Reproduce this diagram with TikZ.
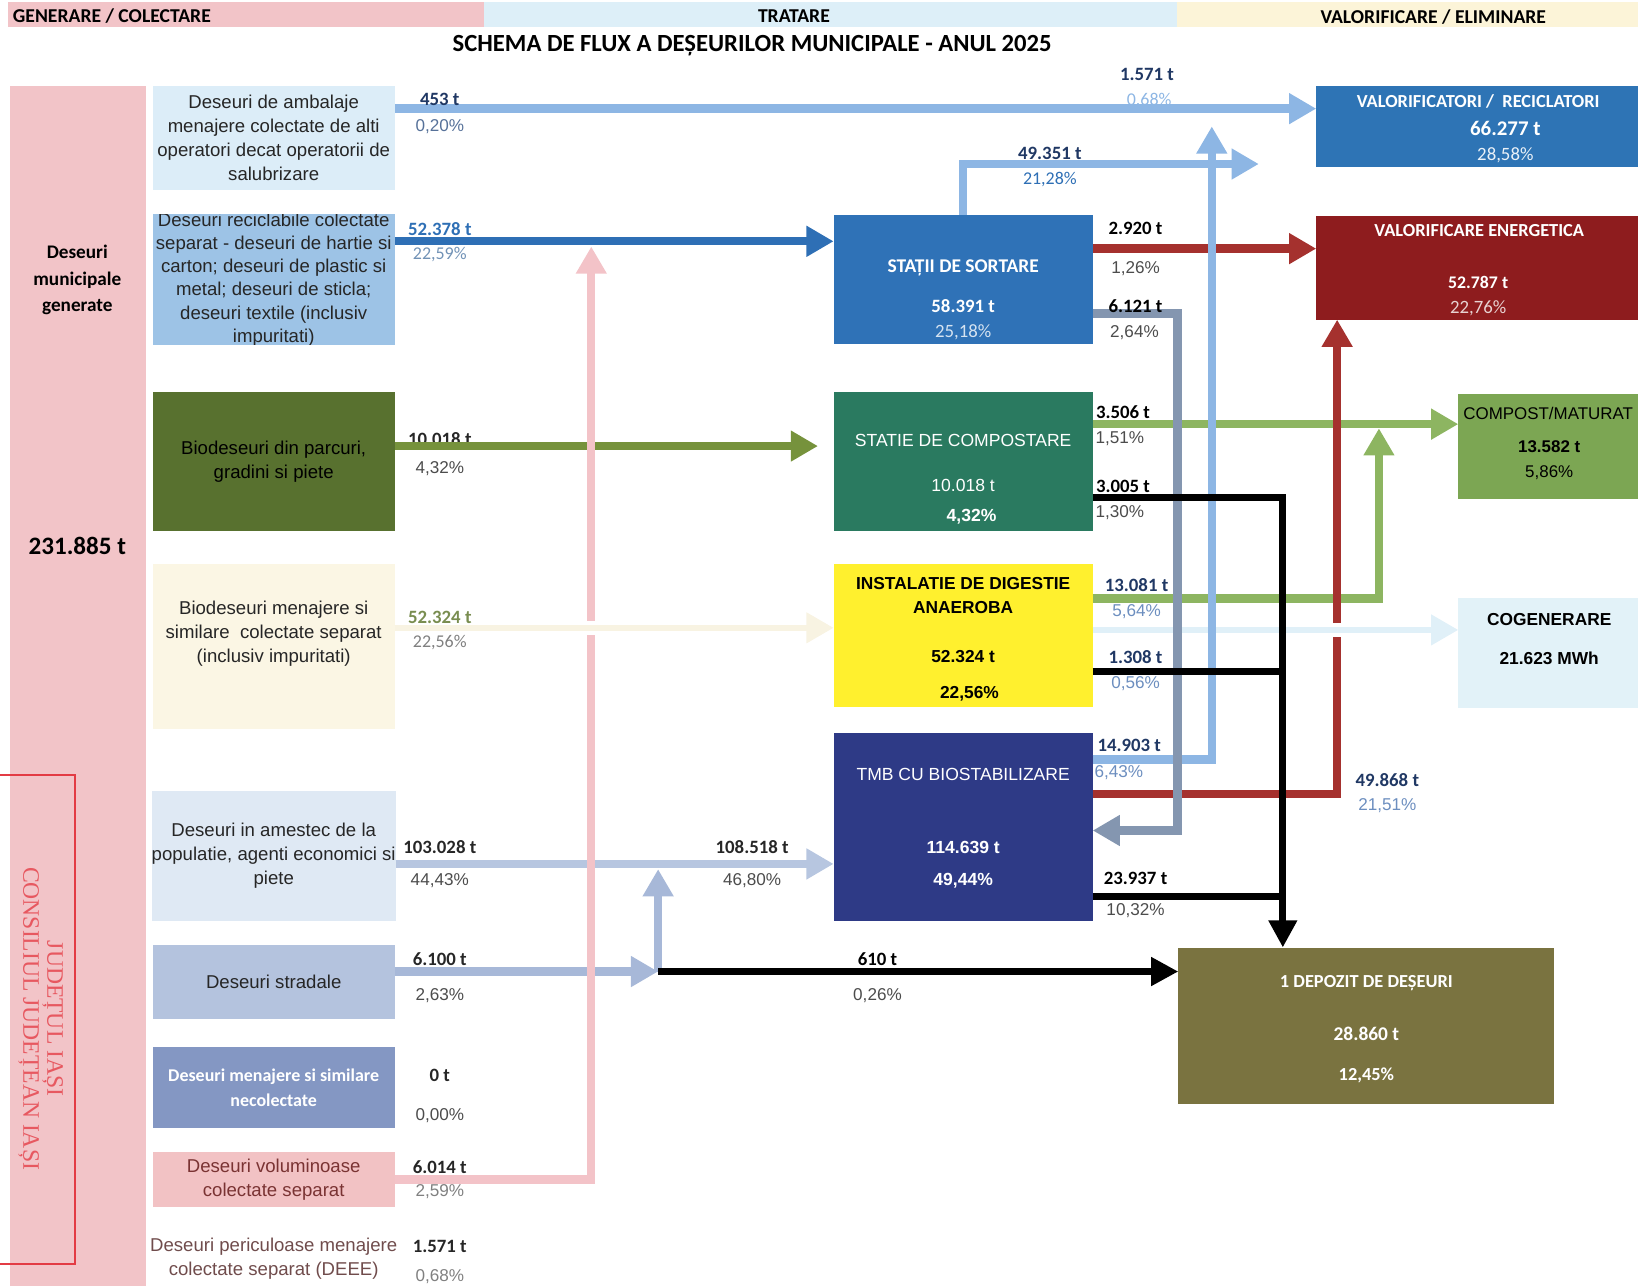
\documentclass[tikz,border=0pt]{standalone}
\usepackage{fontspec}
\setmainfont{Carlito}
\newfontfamily\arl{Liberation Sans}
\newfontfamily\tnr{Liberation Serif}
\usetikzlibrary{arrows.meta,positioning,calc}
\definecolor{pinkbg}{HTML}{F2C4C8}
\definecolor{hdrblue}{HTML}{DDEFF8}
\definecolor{hdryel}{HTML}{FCF4D8}
\definecolor{ambal}{HTML}{DCEDF8}
\definecolor{recic}{HTML}{9DC3E6}
\definecolor{bpark}{HTML}{58712F}
\definecolor{bmenaj}{HTML}{FBF6E4}
\definecolor{amest}{HTML}{DFE9F4}
\definecolor{strad}{HTML}{B4C3DE}
\definecolor{necol}{HTML}{8497C3}
\definecolor{volum}{HTML}{F2C2C4}
\definecolor{sortc}{HTML}{2F72B7}
\definecolor{compc}{HTML}{2A7A60}
\definecolor{digc}{HTML}{FFF02E}
\definecolor{tmbc}{HTML}{2E3A86}
\definecolor{valrc}{HTML}{2E74B5}
\definecolor{enerc}{HTML}{8E1C1E}
\definecolor{cmpstc}{HTML}{7CA653}
\definecolor{cogc}{HTML}{E2F2F8}
\definecolor{depc}{HTML}{7A7340}
\definecolor{fllblue}{HTML}{8DB6E4}
\definecolor{fldblue}{HTML}{2E6FB5}
\definecolor{flpink}{HTML}{F3C3C8}
\definecolor{flolive}{HTML}{76923C}
\definecolor{flcream}{HTML}{F8F3E2}
\definecolor{flgray}{HTML}{B7C6E0}
\definecolor{flstrad}{HTML}{A7B8D8}
\definecolor{flred}{HTML}{A5312E}
\definecolor{flslate}{HTML}{8496B0}
\definecolor{flgreen}{HTML}{8DB561}
\definecolor{flfaint}{HTML}{E0F0F8}
\definecolor{navy}{HTML}{203864}
\definecolor{slate}{HTML}{6C8EBF}
\definecolor{stampred}{HTML}{E33B44}

\begin{document}
\begin{tikzpicture}[x=0.5pt,y=-0.5pt,
  box/.style={rectangle,inner sep=0pt,outer sep=0pt,align=center},
  dsc/.style={font=\arl\fontsize{8.9}{11.5}\selectfont,align=center,text=black!85},
  num/.style={font=\fontsize{9}{10}\selectfont\bfseries,inner sep=0pt,text=black!85},
  pct/.style={font=\arl\fontsize{8.2}{10}\selectfont,inner sep=0pt,text=black!70},
  hd/.style={font=\fontsize{9.4}{10}\selectfont\bfseries,inner sep=0pt},
  wt/.style={font=\fontsize{9}{10}\selectfont\bfseries,text=white,inner sep=0pt,align=center},
  at8/.style={font=\arl\fontsize{8.4}{11.5}\selectfont,inner sep=0pt,align=center},
  flow/.style={line width=4pt,-{Triangle[length=13pt,width=14pt]}},
  blk/.style={line width=3.5pt,black,-{Triangle[length=13pt,width=13pt]}},
  faint/.style={line width=3pt,preaction={draw=white,line width=7pt}}
]
\useasboundingbox (0,0) rectangle (1568,1231);
% header bands
\node[box,fill=pinkbg,minimum width=227.5pt,minimum height=12pt] (hgen) at (235.5,14) {};
\node[box,fill=hdrblue,minimum width=332pt,minimum height=12pt] (htrat) at (795,14) {};
\node[box,fill=hdryel,minimum width=220.5pt,minimum height=12pt] (hval) at (1347.5,14) {};
\node[hd,anchor=west] (hgenT) at (12,15) {GENERARE / COLECTARE};
\node[hd] (htratT) at (760,15) {TRATARE};
\node[hd] (hvalT) at (1372,16) {VALORIFICARE / ELIMINARE};
\node[font=\fontsize{11.8}{13}\selectfont\bfseries] (title) at (720,44) {SCHEMA DE FLUX A DEȘEURILOR MUNICIPALE - ANUL 2025};

% generated column + stamp
\node[box,fill=pinkbg,minimum width=65pt,minimum height=574.5pt] (gen) at (75,656.5) {};
\node[font=\fontsize{9.2}{12.5}\selectfont\bfseries,align=center] (genT) at (74,268) {Deseuri\\municipale\\generate};
\node[font=\fontsize{12}{13}\selectfont\bfseries] (genV) at (74,523) {231.885 t};
\draw[stampred,line width=0.7pt] (0,742) -- (72,742) -- (72,1210) -- (0,1210);
\node[font=\tnr\fontsize{11.3}{11.5}\selectfont,text=stampred!85,rotate=-90,align=center] (stamp) at (39,975) {JUDEȚUL IAȘI\\CONSILIUL JUDEȚEAN IAȘI};

% sources
\node[box,dsc,fill=ambal,minimum width=116pt,minimum height=50pt] (amb) at (262,132) {Deseuri de ambalaje\\menajere colectate de alti\\operatori decat operatorii de\\salubrizare};
\node[box,fill=recic,minimum width=116pt,minimum height=62.5pt] (rec) at (262,267.5) {};
\begin{scope}
  \clip (rec.south west) rectangle (rec.north east);
  \node[dsc,font=\arl\fontsize{8.9}{11.1}\selectfont] (recT) at (262,267.5) {Deseuri reciclabile colectate\\separat - deseuri de hartie si\\carton; deseuri de plastic si\\metal; deseuri de sticla;\\deseuri textile (inclusiv\\impuritati)};
\end{scope}
\node[box,dsc,fill=bpark,minimum width=116pt,minimum height=66.5pt,text=black] (bpar) at (262,441.5) {Biodeseuri din parcuri,\\gradini si piete};
\node[box,fill=bmenaj,minimum width=116pt,minimum height=79pt] (bmen) at (262,619) {};
\node[dsc] (bmenT) at (262,607) {Biodeseuri menajere si\\similare\ \ colectate separat\\(inclusiv impuritati)};
\node[box,dsc,fill=amest,minimum width=116pt,minimum height=62.5pt] (ames) at (262,819.5) {Deseuri in amestec de la\\populatie, agenti economici si\\piete};
\node[box,dsc,fill=strad,minimum width=116pt,minimum height=35pt] (strd) at (262,940) {Deseuri stradale};
\node[box,wt,fill=necol,minimum width=116pt,minimum height=39pt,font=\fontsize{8.6}{12}\selectfont\bfseries] (necl) at (262,1041) {Deseuri menajere si similare\\necolectate};
\node[box,dsc,fill=volum,minimum width=116pt,minimum height=26pt,text=red!35!black!80] (vol) at (262,1129) {Deseuri voluminoase\\colectate separat};
\node[dsc,text=red!20!black!70] (peric) at (262,1205) {Deseuri periculoase menajere\\colectate separat (DEEE)};

% treatment
\node[box,fill=sortc,minimum width=124pt,minimum height=62pt] (sort) at (922,267.5) {};
\node[box,fill=compc,minimum width=124pt,minimum height=66.5pt] (comp) at (922,441.5) {};
\node[box,fill=digc,minimum width=124pt,minimum height=68.5pt] (dig) at (922,608.5) {};
\node[box,fill=tmbc,minimum width=124pt,minimum height=90pt] (tmb) at (922,792) {};
\node[wt,font=\fontsize{9.3}{10}\selectfont\bfseries] (sortT) at (922,256) {STAȚII DE SORTARE};
\node[wt] (sortV) at (922,293) {58.391 t};
\node[wt,font=\fontsize{9}{10}\selectfont,text=white!80!sortc] (sortP) at (922,318) {25,18\%};
\node[at8,text=white] (compT) at (922,422) {STATIE DE COMPOSTARE};
\node[at8,text=white] (compV) at (922,465) {10.018 t};
\node[at8,text=white,font=\arl\bfseries\fontsize{8.4}{10}\selectfont] (compP) at (930,495) {4,32\%};
\node[at8,font=\arl\bfseries\fontsize{8.3}{11.5}\selectfont] (digT) at (922,570.5) {INSTALATIE DE DIGESTIE\\ANAEROBA};
\node[at8,font=\arl\bfseries\fontsize{8.3}{10}\selectfont] (digV) at (922,628) {52.324 t};
\node[at8,font=\arl\bfseries\fontsize{8.3}{10}\selectfont] (digP) at (928,664) {22,56\%};
\node[at8,text=white] (tmbT) at (922,741) {TMB CU BIOSTABILIZARE};
\node[at8,text=white,font=\arl\bfseries\fontsize{8.4}{10}\selectfont] (tmbV) at (922,811) {114.639 t};
\node[at8,text=white,font=\arl\bfseries\fontsize{8.4}{10}\selectfont] (tmbP) at (922,843) {49,44\%};

% destinations
\node[box,fill=valrc,minimum width=154pt,minimum height=39pt] (valr) at (1414,121) {};
\node[box,fill=enerc,minimum width=154pt,minimum height=49.5pt] (ener) at (1414,256.5) {};
\node[box,fill=cmpstc,minimum width=86pt,minimum height=50.5pt] (cmpst) at (1482,427.5) {};
\node[box,fill=cogc,minimum width=86pt,minimum height=53pt] (cog) at (1482,625) {};
\node[box,fill=depc,minimum width=180pt,minimum height=75pt] (dep) at (1308,982) {};
\node[wt,font=\fontsize{8.8}{10}\selectfont\bfseries] (valrT) at (1415,97) {VALORIFICATORI /\ \ RECICLATORI};
\node[wt,font=\fontsize{10}{11}\selectfont\bfseries] (valrV) at (1441,123) {66.277 t};
\node[wt,font=\fontsize{9}{10}\selectfont,text=white!90!valrc] (valrP) at (1441,149) {28,58\%};
\node[wt,font=\fontsize{8.8}{10}\selectfont\bfseries] (enerT) at (1416,221) {VALORIFICARE ENERGETICA};
\node[wt,font=\fontsize{8.5}{10}\selectfont\bfseries] (enerV) at (1415,270) {52.787 t};
\node[wt,font=\fontsize{9}{10}\selectfont,text=white!80!enerc] (enerP) at (1415,295) {22,76\%};
\node[at8,font=\arl\fontsize{8.1}{10}\selectfont] (cmpstT) at (1482,396) {COMPOST/MATURAT};
\node[at8,font=\arl\bfseries\fontsize{8.1}{10}\selectfont] (cmpstV) at (1483,428) {13.582 t};
\node[at8,font=\arl\fontsize{8.1}{10}\selectfont] (cmpstP) at (1483,452) {5,86\%};
\node[at8,font=\arl\bfseries\fontsize{8.3}{10}\selectfont] (cogT) at (1483,593) {COGENERARE};
\node[at8,font=\arl\bfseries\fontsize{8.3}{10}\selectfont] (cogV) at (1483,630) {21.623 MWh};
\node[wt,font=\fontsize{8.8}{10}\selectfont\bfseries] (depT) at (1308,941) {1 DEPOZIT DE DEȘEURI};
\node[wt,font=\fontsize{9.3}{10}\selectfont\bfseries] (depV) at (1308,990) {28.860 t};
\node[wt,font=\fontsize{8.8}{10}\selectfont\bfseries] (depP) at (1308,1029) {12,45\%};

% flows from sources
\node[num] (nBpar) at (421,420) {10.018 t};
\draw[flow,fllblue] ([yshift=14pt]amb.east) -- ([yshift=8.5pt]valr.west);
\draw[flow,fldblue] ([yshift=18.25pt]rec.east) -- ([yshift=18.25pt]sort.west);
\draw[flow,flolive,shorten >=7.5pt] ([yshift=7.25pt]bpar.east) -- ([yshift=7.25pt]comp.west);
\draw[flow,flgray] ([yshift=-3.75pt]ames.east) -- ([yshift=-17.5pt]tmb.west);
\coordinate (jst) at (630,930);
\coordinate (jam) at (630,832);
\draw[flow,flstrad] ([yshift=5pt]strd.east) -- (jst);
\draw[flow,flstrad] (jst) -- (jam);
\draw[blk] (jst) -- ([yshift=26pt]dep.west);
\coordinate (jpk) at (566,236);
\draw[flow,flpink] (vol.east) -| (jpk);
\draw[flow,flcream,faint] ([yshift=9pt]bmen.east) -- ([yshift=3.75pt]dig.west);

% flows from treatment
\draw[flow,flgreen] ([yshift=17.75pt]comp.east) -- ([yshift=10.75pt]cmpst.west);
\draw[flow,flgreen] ([yshift=17.75pt]dig.east) -| ([xshift=-38pt,yshift=8.75pt]cmpst.west);
\draw[flow,flred] ([yshift=14.75pt]sort.east) -- ([yshift=9.25pt]ener.west);
\draw[flow,flred] ([yshift=16pt]tmb.east) -| ([xshift=10pt]ener.south west);
\draw[flow,flfaint,faint] ([yshift=2.75pt]dig.east) -- ([yshift=11pt]cog.west);
\draw[flow,fllblue] (sort.north) |- ([xshift=-27.5pt,yshift=1.5pt]valr.south west);
\draw[flow,fllblue] ([yshift=32.5pt]tmb.east) -| ([xshift=-50pt]valr.west);
\draw[flow,flslate] ([yshift=-16.25pt]sort.east) -- ++(40.5pt,0) |- ([yshift=-1.5pt]tmb.east);
\draw[blk] ([yshift=-17.25pt]comp.east) -| ([xshift=-40pt]dep.north);
\draw[blk,-] ([yshift=-17.25pt]dig.east) -- ++(92.75pt,0);
\draw[blk,-] ([yshift=-33pt]tmb.east) -- ++(92.75pt,0);

% flow labels, sources
\node[num,text=navy] (nAmb) at (421,95) {453 t};
\node[pct,text=slate!80!black] (pAmb) at (421,121) {0,20\%};
\node[num,text=fldblue] (nRec) at (421,219) {52.378 t};
\node[pct,font=\fontsize{8.6}{10}\selectfont,text=fllblue!80!black] (pRec) at (421,244) {22,59\%};
\node[pct] (pBpar) at (421,449) {4,32\%};
\node[num,text=flolive!70!gray] (nBmen) at (421,591) {52.324 t};
\node[pct,font=\fontsize{8.6}{10}\selectfont,text=gray] (pBmen) at (421,615) {22,56\%};
\node[num] (nAmes) at (421,811) {103.028 t};
\node[pct] (pAmes) at (421,843) {44,43\%};
\node[num] (nStrd) at (421,918) {6.100 t};
\node[pct] (pStrd) at (421,953) {2,63\%};
\node[num] (nNecl) at (421,1029) {0 t};
\node[pct] (pNecl) at (421,1068) {0,00\%};
\node[num] (nVol) at (421,1117) {6.014 t};
\node[pct,text=gray] (pVol) at (421,1141) {2,59\%};
\node[num] (nPeric) at (421,1193) {1.571 t};
\node[pct,text=gray] (pPeric) at (421,1222) {0,68\%};
\node[num] (nMix) at (720,811) {108.518 t};
\node[pct] (pMix) at (720,843) {46,80\%};
\node[num,text=black] (nLand) at (840,918) {610 t};
\node[pct] (pLand) at (840,953) {0,26\%};

% flow labels, treatment
\node[num,text=navy] (nTop) at (1098,71) {1.571 t};
\node[pct,font=\fontsize{8.6}{10}\selectfont,text=fllblue] (pTop) at (1100,96) {0,68\%};
\node[num,text=navy] (nSrtV) at (1005,147) {49.351 t};
\node[pct,font=\fontsize{8.6}{10}\selectfont,text=fldblue] (pSrtV) at (1005,172) {21,28\%};
\node[num,text=black] (nSrtE) at (1087,219) {2.920 t};
\node[pct] (pSrtE) at (1087,257) {1,26\%};
\node[num,text=black] (nSrtT) at (1087,293) {6.121 t};
\node[pct] (pSrtT) at (1086,318) {2,64\%};
\node[num,text=black] (nCmpC) at (1075,395) {3.506 t};
\node[pct] (pCmpC) at (1072,420) {1,51\%};
\node[num,text=black] (nCmpD) at (1075,466) {3.005 t};
\node[pct] (pCmpD) at (1072,491) {1,30\%};
\node[num,text=navy] (nDigC) at (1088,560) {13.081 t};
\node[pct,text=slate] (pDigC) at (1088,585) {5,64\%};
\node[num,text=navy] (nDigD) at (1087,629) {1.308 t};
\node[pct,text=slate] (pDigD) at (1087,654) {0,56\%};
\node[num,text=navy] (nTmbV) at (1081,714) {14.903 t};
\node[pct,text=slate] (pTmbV) at (1071,740) {6,43\%};
\node[num,text=navy] (nTmbE) at (1328,747) {49.868 t};
\node[pct,text=slate] (pTmbE) at (1328,771) {21,51\%};
\node[num,text=black] (nTmbD) at (1087,841) {23.937 t};
\node[pct] (pTmbD) at (1087,872) {10,32\%};
\end{tikzpicture}
\end{document}
